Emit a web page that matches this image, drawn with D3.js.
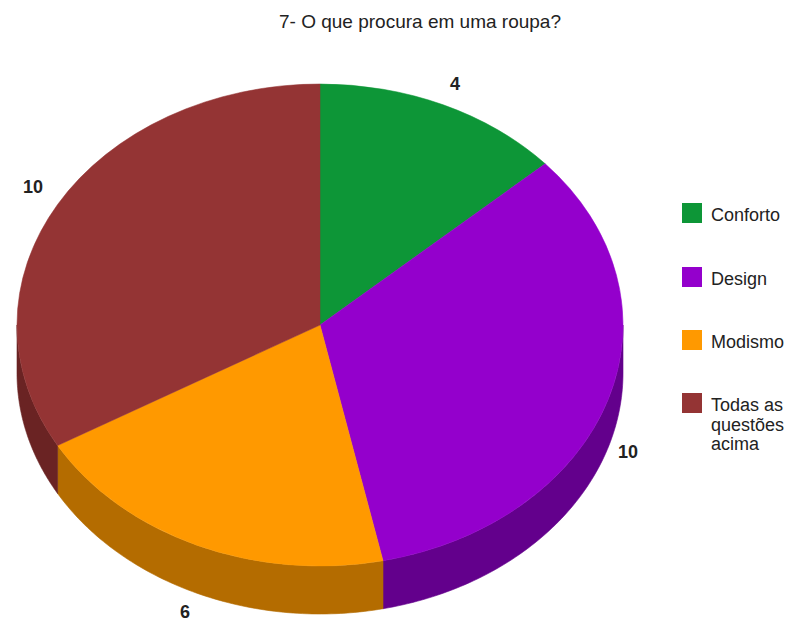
<!DOCTYPE html>
<html><head><meta charset="utf-8">
<script src="https://cdn.jsdelivr.net/npm/d3@7"></script>
<style>body{margin:0;background:#fff}</style>
</head><body>
<svg id="c" width="787" height="623"></svg>
<script>
const categories = ["Conforto", "Design", "Modismo", "Todas as questões acima"];
const legendLines = [["Conforto"], ["Design"], ["Modismo"], ["Todas as", "questões", "acima"]];
const values = [4, 10, 6, 10];
const topColors = ["#0d9637", "#9400cc", "#ff9900", "#943434"];
const sideColors = ["#08692a", "#63008c", "#b46c00", "#6a2323"];
const title = "7- O que procura em uma roupa?";

const W = 787, H = 623;
const cx = 320, cy = 325, rx = 303, ry = 241, depth = 48;
const font = "Liberation Sans, Arial, sans-serif";
const svg = d3.select("#c");
svg.append("rect").attr("width", W).attr("height", H).attr("fill", "#fff");

svg.append("text").attr("x", 420).attr("y", 28).attr("text-anchor", "middle")
  .attr("font-family", font).attr("font-size", 19).attr("fill", "#222")
  .text(title);

const pieData = d3.pie().sort(null).value(d => d)(values);
const ex = t => cx + rx * Math.sin(t);
const ey = t => cy - ry * Math.cos(t);
const lineGen = d3.line();

// side walls (front-facing portion: t in [PI/2, 3PI/2])
const sideG = svg.append("g");
pieData.forEach((p, i) => {
  const a = Math.max(p.startAngle, Math.PI / 2), b = Math.min(p.endAngle, 3 * Math.PI / 2);
  if (b <= a) return;
  const n = 80;
  const ts = d3.range(n + 1).map(k => a + (b - a) * k / n);
  const pts = ts.map(t => [ex(t), ey(t)]).concat(ts.slice().reverse().map(t => [ex(t), ey(t) + depth]));
  sideG.append("path").attr("d", lineGen(pts) + "Z").attr("fill", sideColors[i]).attr("stroke", sideColors[i]).attr("stroke-width", 0.6);
});

// top face
const arcGen = d3.arc().innerRadius(0).outerRadius(rx);
const topG = svg.append("g").attr("transform", `translate(${cx},${cy}) scale(1,${ry / rx})`);
topG.selectAll("path").data(pieData).join("path")
  .attr("d", arcGen).attr("fill", (d, i) => topColors[i])
  .attr("stroke", (d, i) => topColors[i]).attr("stroke-width", 0.6);

// value labels
const labelPos = [[455, 90], [628, 458], [185, 618], [33, 193]];
pieData.forEach((p, i) => {
  svg.append("text").attr("x", labelPos[i][0]).attr("y", labelPos[i][1]).attr("text-anchor", "middle")
    .attr("font-family", font).attr("font-size", 18).attr("font-weight", "bold")
    .attr("fill", "#222").text(values[i]);
});

// legend
const ly = [203, 267, 330, 393];
categories.forEach((c, i) => {
  svg.append("rect").attr("x", 682).attr("y", ly[i]).attr("width", 20).attr("height", 20).attr("fill", topColors[i]);
  const t = svg.append("text").attr("x", 711).attr("y", ly[i] + 18)
    .attr("font-family", font).attr("font-size", 18).attr("fill", "#222");
  legendLines[i].forEach((l, k) => t.append("tspan").attr("x", 711).attr("dy", k ? 19.5 : 0).text(l));
});
</script>
</body></html>
